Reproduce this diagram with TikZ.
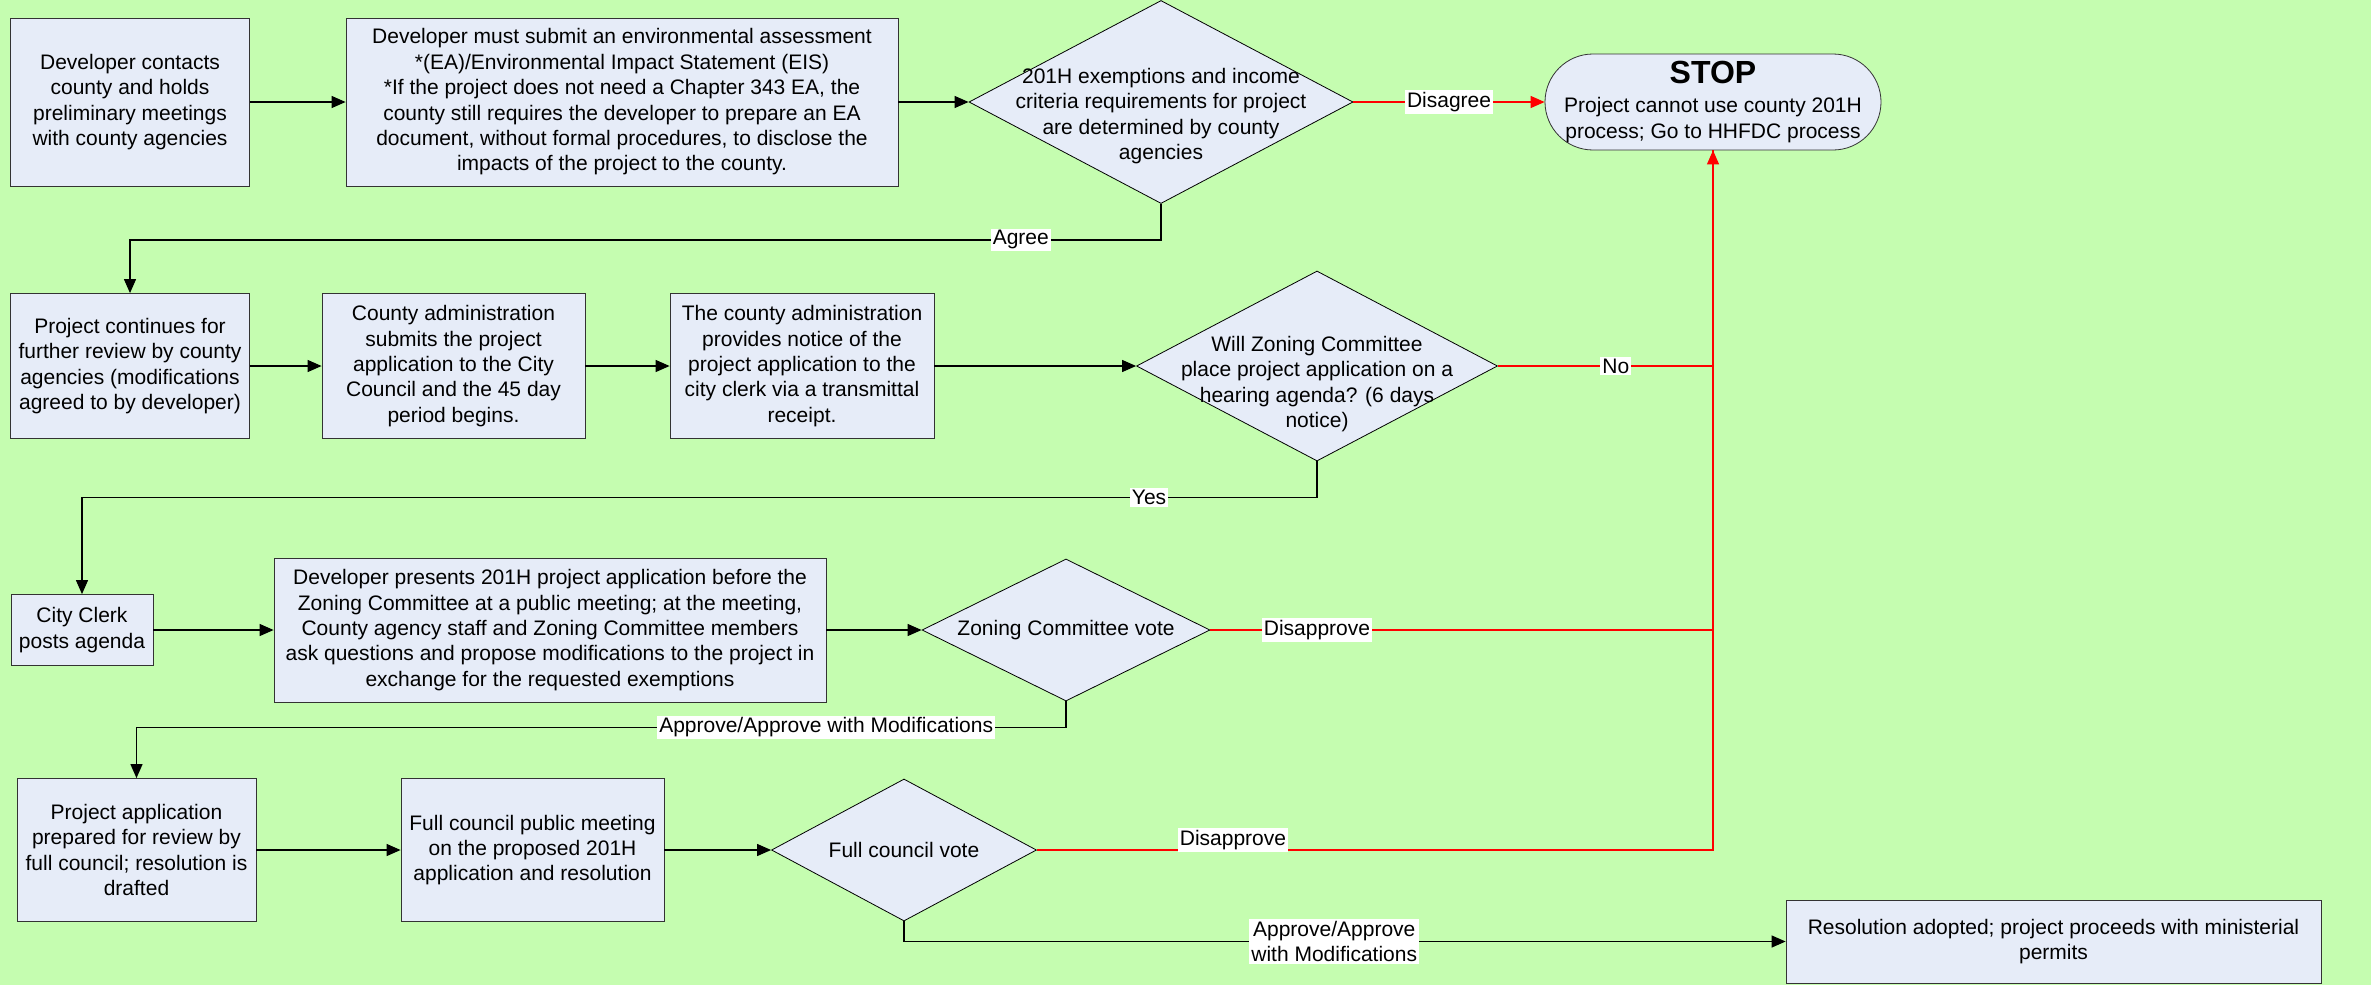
\documentclass[tikz,border=0pt]{standalone}
\usepackage{fontspec}
\setmainfont{Liberation Sans}
\usetikzlibrary{shapes.geometric,arrows.meta}
\definecolor{bggreen}{RGB}{197,253,176}
\definecolor{boxfill}{RGB}{230,236,248}

\begin{document}
\begin{tikzpicture}[x=0.5pt,y=-0.5pt,
    font=\fontsize{10.5}{12.7}\selectfont,
    box/.style={draw=black!80, fill=boxfill, align=center, inner sep=2pt},
    dec/.style={diamond, draw, fill=boxfill, inner sep=0pt},
    dtext/.style={align=center},
    arr/.style={-{Triangle[length=7pt,width=6pt]}},
    flow/.style={draw=black, line width=0.6pt},
    stopline/.style={draw=red, line width=0.6pt},
    lbl/.style={fill=white, inner sep=1pt}]
    % background and page size
    \fill[bggreen] (0,0) rectangle (2371,985);

    % first row: contact, assessment, exemptions, stop
    \node[box, minimum width=119.5pt, minimum height=84pt] (devc) at (130,102)
        {Developer contacts\\county and holds\\preliminary meetings\\with county agencies};
    \node[box, minimum width=276pt, minimum height=84pt] (eas) at (622,102)
        {Developer must submit an environmental assessment\\*(EA)/Environmental Impact Statement (EIS)\\*If the project does not need a Chapter 343 EA, the\\county still requires the developer to prepare an EA\\document, without formal procedures, to disclose the\\impacts of the project to the county.};
    \node[dec, minimum width=192pt, minimum height=101.5pt,
        label={[dtext, yshift=-7pt]center:{201H exemptions and income\\criteria requirements for project\\are determined by county\\agencies}}] (exq) at (1161,102) {};
    \node[box, rounded corners=24pt, minimum width=168pt, minimum height=48pt, inner sep=0pt] (stop) at (1713,102)
        {{\fontsize{16}{18}\selectfont\bfseries STOP}\\[2pt]Project cannot use county 201H\\process; Go to HHFDC process};

    % second row: review, submission, notice, hearing question
    \node[box, minimum width=119.5pt, minimum height=72.5pt] (review) at (130,366)
        {Project continues for\\further review by county\\agencies (modifications\\agreed to by developer)};
    \node[box, minimum width=131.5pt, minimum height=72.5pt] (submit) at (453.5,366)
        {County administration\\submits the project\\application to the City\\Council and the 45 day\\period begins.};
    \node[box, minimum width=132pt, minimum height=72.5pt] (notice) at (802,366)
        {The county administration\\provides notice of the\\project application to the\\city clerk via a transmittal\\receipt.};
    \node[dec, minimum width=180.5pt, minimum height=95pt,
        label={[dtext, yshift=-9pt]center:{Will Zoning Committee\\place project application on a\\hearing agenda? (6 days\\notice)}}] (zcq) at (1317,366) {};

    % third row: agenda, presentation, committee vote
    \node[box, minimum width=71pt, minimum height=35.5pt] (clerk) at (82,630)
        {City Clerk\\posts agenda};
    \node[box, minimum width=276pt, minimum height=72pt] (present) at (550,630)
        {Developer presents 201H project application before the\\Zoning Committee at a public meeting; at the meeting,\\County agency staff and Zoning Committee members\\ask questions and propose modifications to the project in\\exchange for the requested exemptions};
    \node[dec, minimum width=144pt, minimum height=71pt,
        label={[dtext]center:{Zoning Committee vote}}] (zcv) at (1066,630) {};

    % fourth row: resolution, council meeting, council vote, adoption
    \node[box, minimum width=119.5pt, minimum height=71.5pt] (prep) at (136.5,850)
        {Project application\\prepared for review by\\full council; resolution is\\drafted};
    \node[box, minimum width=131.5pt, minimum height=71.5pt] (meet) at (532.5,850)
        {Full council public meeting\\on the proposed 201H\\application and resolution};
    \node[dec, minimum width=132.5pt, minimum height=71pt,
        label={[dtext]center:{Full council vote}}] (fcv) at (904,850) {};
    \node[box, minimum width=267.5pt, minimum height=41.5pt] (adopt) at (2053.5,941.5)
        {Resolution adopted; project proceeds with ministerial\\permits};

    % connectors
    \draw[flow, arr] (devc) -- (eas);
    \draw[flow, arr] (eas) -- (exq);
    \draw[stopline, arr] (exq) -- node[lbl, text=black] {Disagree} (stop);
    \draw[flow, arr] (exq.south) -- ++(0,36) -| node[lbl, pos=0.068] {Agree} (review.north);
    \draw[flow, arr] (review) -- (submit);
    \draw[flow, arr] (submit) -- (notice);
    \draw[flow, arr] (notice) -- (zcq);
    \draw[stopline, arr] (zcq.east) -| node[lbl, pos=0.274, text=black] {No} (stop.south);
    \draw[flow, arr] (zcq.south) -- ++(0,36) -| node[lbl, pos=0.068] {Yes} (clerk.north);
    \draw[flow, arr] (clerk) -- (present);
    \draw[flow, arr] (present) -- (zcv);
    \draw[stopline] (zcv.east) -| node[lbl, pos=0.106, text=black] {Disapprove} (stop.south);
    \draw[flow, arr] (zcv.south) -- ++(0,26) -| node[lbl, pos=0.129] {Approve/Approve with Modifications} (prep.north);
    \draw[flow, arr] (prep) -- (meet);
    \draw[flow, arr] (meet) -- (fcv);
    \draw[stopline] (fcv.east) -| node[lbl, pos=0.145, yshift=5pt, text=black] {Disapprove} (stop.south);
    \draw[flow, arr] (fcv.south) |- node[lbl, pos=0.744, align=center] {Approve/Approve\\with Modifications} (adopt.west);
\end{tikzpicture}
\end{document}
